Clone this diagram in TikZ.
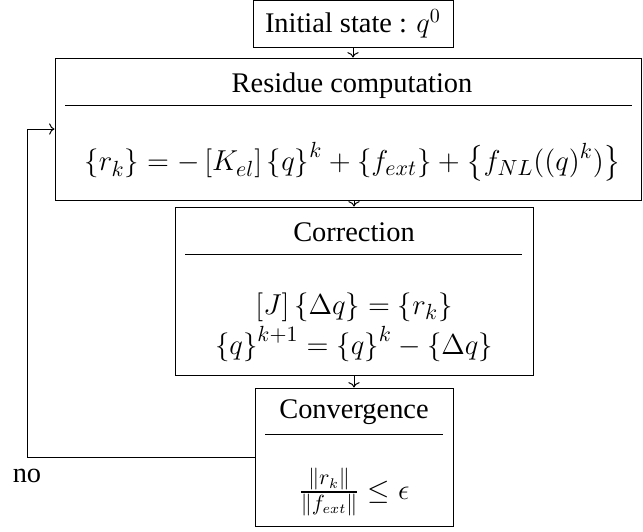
\documentclass[12pt,tikz,border=0pt]{standalone}
\usepackage{amsmath, amssymb}
\usepackage{fontspec}
\setmainfont{Liberation Serif}
\usetikzlibrary{arrows.meta, positioning}

\begin{document}
\begin{tikzpicture}[x=0.5pt, y=-0.5pt, font=\fontsize{14.2}{17}\selectfont,
          box/.style={draw, rectangle, line width=0.5pt, inner sep=0pt},
          txt/.style={inner sep=0pt, align=center},
          eq/.style={inner sep=0pt, align=center, font=\fontsize{15}{18}\selectfont},
          sep/.style={line width=0.5pt},
          ar/.style={->, line width=0.5pt}]
        \useasboundingbox (0,0) rectangle (643,531);
        % boxes
        \node[box, minimum width=100pt, minimum height=23.5pt] (init) at (353,24) {Initial state : $q^0$};
        \node[box, minimum width=293pt, minimum height=71pt] (res) at (348,129) {};
        \node[box, minimum width=179pt, minimum height=84pt] (cor) at (354,291) {};
        \node[box, minimum width=99pt, minimum height=69pt] (conv) at (354,457) {};
        % titles and formulas
        \node[txt] (resT) at (352,86) {Residue computation};
        \node[eq] (resF) at (353,162) {$\displaystyle \left\{r_k\right\} = -\left[K_{el}\right]\left\{q\right\}^k + \left\{f_{ext}\right\} + \left\{f_{NL}((q)^k)\right\}$};
        \node[txt] (corT) at (354,232) {Correction};
        \node[eq] (corF) at (354,327) {$[J]\left\{\Delta q\right\} = \left\{r_k\right\}$\\[2pt] $\left\{q\right\}^{k+1} = \left\{q\right\}^k - \left\{\Delta q\right\}$};
        \node[txt] (convT) at (354,412) {Convergence};
        \node[eq] (convF) at (354,492) {$\frac{\|r_k\|}{\|f_{ext}\|} \leq \epsilon$};
        \draw[sep] (65,105) -- (632,105);
        \draw[sep] (185,254) -- (522,254);
        \draw[sep] (265,434) -- (443,434);
        % flow
        \draw[ar] (init) -- (init |- res.north);
        \draw[ar] (res.south -| cor) -- (cor);
        \draw[ar] (cor) -- (conv);
        \coordinate (back) at (27,457);
        \draw[ar] (conv.west) -- (back) |- (res.west);
        \node[txt] (no) at (27,476) {no};
\end{tikzpicture}
\end{document}
